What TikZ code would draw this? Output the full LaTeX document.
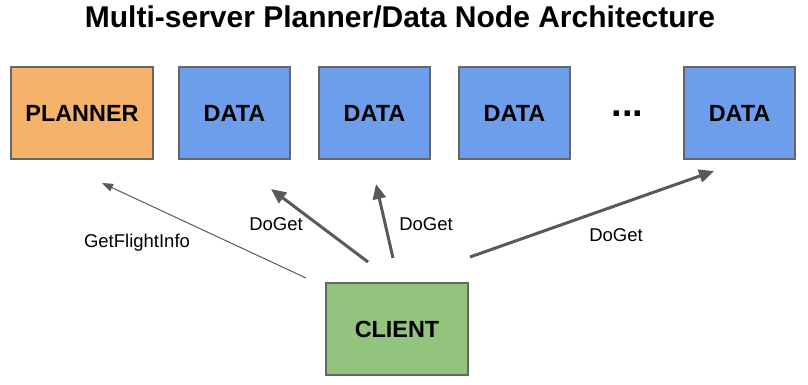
\documentclass[tikz,border=0pt]{standalone}
\usepackage{fontspec}
\setmainfont{Liberation Sans}
\usepackage{tikz}
\usetikzlibrary{arrows.meta}
\definecolor{planner}{HTML}{F6B26B}
\definecolor{datanode}{HTML}{6D9EEB}
\definecolor{client}{HTML}{93C47D}
\definecolor{boxline}{HTML}{666666}
\definecolor{arrowgray}{HTML}{595959}

\tikzset{
  server/.style={draw=boxline, line width=1.2pt, inner sep=0pt, minimum height=92pt,
    font=\fontsize{23.4}{27}\selectfont\bfseries},
  rpc/.style={draw=arrowgray, line width=3pt, -{Triangle[length=15pt,width=13pt]}},
  rpcthin/.style={draw=arrowgray, line width=1pt, -{Triangle[length=11pt,width=8pt]}},
  rpclabel/.style={font=\fontsize{18.5}{22}\selectfont}
}

\begin{document}
\begin{tikzpicture}[x=1pt, y=-1pt]
  \useasboundingbox (0,0) rectangle (808,385);

  \node[anchor=base, font=\fontsize{30}{35}\selectfont\bfseries] (title) at (400,28)
    {Multi-server Planner/Data Node Architecture};

  \node[server, fill=planner, minimum width=142pt] (planner) at (82,113) {PLANNER};
  \node[server, fill=datanode, minimum width=111pt] (d1) at (234.5,113) {DATA};
  \node[server, fill=datanode, minimum width=111pt] (d2) at (374.5,113) {DATA};
  \node[server, fill=datanode, minimum width=111pt] (d3) at (514.5,113) {DATA};
  \node[anchor=base, font=\fontsize{38}{40}\selectfont\bfseries] (dots) at (627.5,117) {...};
  \node[server, fill=datanode, minimum width=111pt] (d4) at (739.5,113) {DATA};

  \node[server, fill=client, minimum width=142pt] (client) at (397,329) {CLIENT};

  % arrow ends
  \coordinate (a0) at (306,278); \coordinate (b0) at (102,183);
  \coordinate (a1) at (368,262); \coordinate (b1) at (271,189);
  \coordinate (a2) at (393,258); \coordinate (b2) at (376,184);
  \coordinate (a3) at (470,257); \coordinate (b3) at (714,171);

  \draw[rpcthin] (a0) -- (b0);
  \draw[rpc] (a1) -- (b1);
  \draw[rpc] (a2) -- (b2);
  \draw[rpc] (a3) -- (b3);

  \node[rpclabel] (l0) at (137,243) {GetFlightInfo};
  \node[rpclabel] (l1) at (276,224) {DoGet};
  \node[rpclabel] (l2) at (426,224) {DoGet};
  \node[rpclabel] (l3) at (616,235) {DoGet};
\end{tikzpicture}
\end{document}
